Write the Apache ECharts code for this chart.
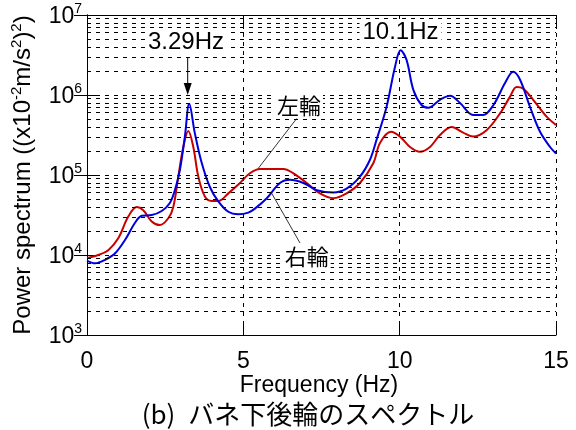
<!DOCTYPE html>
<html>
<head>
<meta charset="utf-8">
<script src="https://cdn.jsdelivr.net/npm/echarts@6/dist/echarts.min.js"></script>
<style>
html,body{margin:0;padding:0;background:#fff;}
#main{width:576px;height:430px;}
</style>
</head>
<body>
<div id="main"></div>
<script>
// Left wheel (red, 左輪)
const leftFreq = [0, 0.36, 0.68, 1.0, 1.32, 1.59, 1.8, 2.07, 2.33, 2.6, 2.76, 2.92, 3.08, 3.24, 3.4, 3.56, 3.77, 3.99, 4.2, 4.52, 4.84, 5.21, 5.53, 6.28, 6.6, 7.03, 7.45, 7.88, 8.3, 8.73, 9.16, 9.37, 9.72, 10.01, 10.33, 10.65, 10.97, 11.29, 11.66, 12.03, 12.35, 12.78, 13.21, 13.53, 13.74, 13.95, 14.27, 14.7, 15];
const leftPower = [9120, 10000, 11500, 16200, 30200, 39800, 36300, 26300, 23700, 28800, 39800, 95500, 224000, 355000, 224000, 95500, 53700, 47300, 47300, 58900, 75900, 105000, 119000, 119000, 105000, 79400, 58900, 51300, 58900, 79400, 141000, 251000, 347000, 302000, 224000, 195000, 224000, 316000, 398000, 339000, 302000, 363000, 589000, 955000, 1260000, 1200000, 871000, 537000, 422000];
// Right wheel (blue, 右輪)
const rightFreq = [0, 0.26, 0.58, 0.9, 1.22, 1.53, 1.75, 2.07, 2.39, 2.65, 2.81, 2.97, 3.13, 3.27, 3.45, 3.67, 3.93, 4.2, 4.52, 4.84, 5.16, 5.37, 5.75, 6.17, 6.49, 6.92, 7.35, 7.88, 8.3, 8.73, 9.05, 9.26, 9.58, 9.85, 10.03, 10.22, 10.44, 10.7, 10.92, 11.29, 11.61, 11.93, 12.35, 12.67, 13.0, 13.37, 13.63, 13.85, 14.17, 14.49, 14.81, 15];
const rightPower = [8510, 7870, 8710, 10500, 15500, 25100, 30900, 31600, 35500, 44700, 64600, 115000, 302000, 776000, 331000, 141000, 70800, 46800, 34700, 32400, 33900, 38000, 51300, 79400, 87100, 79400, 64600, 60300, 67600, 95500, 155000, 275000, 708000, 2240000, 3630000, 2750000, 1150000, 750000, 692000, 871000, 977000, 794000, 562000, 562000, 750000, 1410000, 1950000, 1550000, 708000, 347000, 224000, 186000];
// Minor grid lines of the log axis
const minorGrid = [2000, 3000, 4000, 5000, 6000, 7000, 8000, 9000,
  20000, 30000, 40000, 50000, 60000, 70000, 80000, 90000,
  200000, 300000, 400000, 500000, 600000, 700000, 800000, 900000,
  2000000, 3000000, 4000000, 5000000, 6000000, 7000000, 8000000, 9000000];
const xTicks = [0, 5, 10, 15];

const FONT = '"Liberation Sans", Arial, sans-serif';
const CJK = '"Noto Sans CJK JP", sans-serif';
const dash = [4, 5];

const chart = echarts.init(document.getElementById('main'), null, {renderer: 'canvas'});

function pairs(xs, ys) { return xs.map((x, i) => [x, ys[i]]); }

const option = {
  animation: false,
  backgroundColor: '#fff',
  grid: {left: 87, right: 20, top: 15, bottom: 95, containLabel: false},
  xAxis: [{
    type: 'value', min: 0, max: 15, interval: 5, position: 'bottom',
    axisLine: {show: true, lineStyle: {color: '#000', width: 1}},
    axisTick: {show: true, inside: true, length: 14, lineStyle: {color: '#000'}},
    axisLabel: {color: '#000', fontSize: 23, fontFamily: FONT, margin: 15,
      formatter: v => xTicks.indexOf(v) >= 0 ? String(v) : ''},
    splitLine: {show: true, lineStyle: {color: '#000', type: dash, width: 1}}
  }, {
    type: 'value', min: 0, max: 15, interval: 5, position: 'top',
    axisLine: {show: true, lineStyle: {color: '#000', width: 1}},
    axisTick: {show: true, inside: true, length: 14, lineStyle: {color: '#000'}},
    axisLabel: {show: false}, splitLine: {show: false}
  }],
  yAxis: [{
    type: 'log', logBase: 10, min: 1000, max: 10000000, position: 'left',
    axisLine: {show: true, lineStyle: {color: '#000', width: 1}},
    axisTick: {show: true, inside: true, length: 13, lineStyle: {color: '#000'}},
    axisLabel: {
      color: '#000', margin: 5,
      formatter: function (v) {
        const e = Math.round(Math.log10(v));
        return '{b|10}{s|' + e + '}';
      },
      rich: {
        b: {fontSize: 23, fontFamily: FONT, color: '#000', verticalAlign: 'bottom', lineHeight: 26},
        s: {fontSize: 14, fontFamily: FONT, color: '#000', verticalAlign: 'top', lineHeight: 26}
      }
    },
    splitLine: {show: true, lineStyle: {color: '#000', type: dash, width: 1}}
  }, {
    type: 'log', logBase: 10, min: 1000, max: 10000000, position: 'right',
    axisLine: {show: true, lineStyle: {color: '#000', width: 1}},
    axisTick: {show: true, inside: true, length: 13, lineStyle: {color: '#000'}},
    axisLabel: {show: false}, splitLine: {show: false}
  }],
  series: [{
    name: 'grid', type: 'line', data: [], silent: true,
    markLine: {
      silent: true, symbol: ['none', 'none'], label: {show: false},
      lineStyle: {color: '#000', type: dash, width: 1, opacity: 1},
      emphasis: {disabled: true},
      data: minorGrid.map(v => ({yAxis: v}))
    }
  }, {
    name: '左輪', type: 'line', data: pairs(leftFreq, leftPower),
    smooth: 0.35, showSymbol: false, symbol: 'none',
    lineStyle: {color: '#c80000', width: 2}, z: 3
  }, {
    name: '右輪', type: 'line', data: pairs(rightFreq, rightPower),
    smooth: 0.35, showSymbol: false, symbol: 'none',
    lineStyle: {color: '#0000dd', width: 2}, z: 4
  }],
  graphic: [
    {type: 'text', x: 23, y: 175, rotation: Math.PI / 2, z: 10,
      style: {text: 'Power spectrum ((x10{s|-2}m/s{s|2}){s|2})', fill: '#000',
        font: '24px ' + FONT, align: 'center', verticalAlign: 'middle',
        rich: {s: {fontSize: 15, fontFamily: FONT, verticalAlign: 'top', lineHeight: 27}}}},
    {type: 'text', x: 319, y: 386, z: 10,
      style: {text: 'Frequency (Hz)', fill: '#000', font: '23px ' + FONT, align: 'center', verticalAlign: 'middle'}},
    {type: 'text', x: 308, y: 414, z: 10,
      style: {text: '(b)\u2002バネ下後輪のスペクトル', fill: '#000', font: '26px ' + CJK, align: 'center', verticalAlign: 'middle'}},
    {type: 'text', x: 186, y: 42, z: 10,
      style: {text: '3.29Hz', fill: '#000', font: '24px ' + FONT, align: 'center', verticalAlign: 'middle',
        backgroundColor: '#fff', padding: [1, 3]}},
    {type: 'text', x: 400.5, y: 32, z: 10,
      style: {text: '10.1Hz', fill: '#000', font: '24px ' + FONT, align: 'center', verticalAlign: 'middle',
        backgroundColor: '#fff', padding: [1, 3]}},
    {type: 'line', z: 10, shape: {x1: 187.7, y1: 57, x2: 187.7, y2: 84}, style: {stroke: '#000', lineWidth: 1}},
    {type: 'polygon', z: 10, shape: {points: [[183.7, 83], [191.7, 83], [187.7, 95]]}, style: {fill: '#000'}},
    {type: 'text', x: 299, y: 106, z: 10,
      style: {text: '左輪', fill: '#000', font: '22px ' + CJK, align: 'center', verticalAlign: 'middle',
        backgroundColor: '#fff', padding: [1, 2]}},
    {type: 'line', z: 10, shape: {x1: 296.7, y1: 118.5, x2: 258.3, y2: 168.3}, style: {stroke: '#000', lineWidth: 0.8}},
    {type: 'text', x: 306.7, y: 256.7, z: 10,
      style: {text: '右輪', fill: '#000', font: '22px ' + CJK, align: 'center', verticalAlign: 'middle',
        backgroundColor: '#fff', padding: [1, 2]}},
    {type: 'line', z: 10, shape: {x1: 271.7, y1: 193.3, x2: 300, y2: 243}, style: {stroke: '#000', lineWidth: 0.8}}
  ]
};
chart.setOption(option);
</script>
</body>
</html>
